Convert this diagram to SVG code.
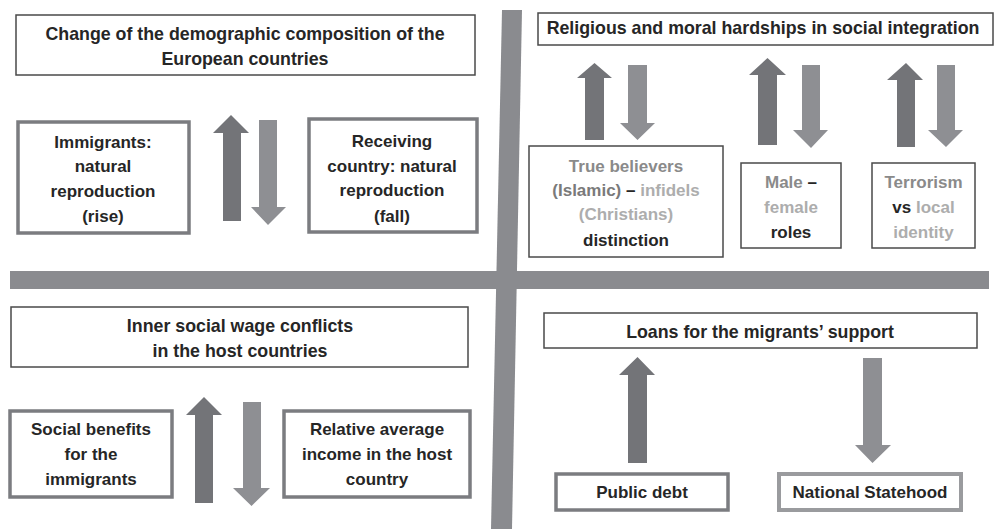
<svg xmlns="http://www.w3.org/2000/svg" width="994" height="529" viewBox="0 0 994 529">
<style>
text{font-family:"Liberation Sans",Arial,sans-serif;font-weight:bold;font-size:17px;fill:#262626;text-anchor:middle}
text.t{font-size:17.8px}
.thin{fill:#fff;stroke:#4a4a4a;stroke-width:1.5}
.thick{fill:#fff;stroke:#7b7c80;stroke-width:3.5}
.thick2{fill:#fff;stroke:#9a9b9e;stroke-width:4}
.up{fill:#737478}
.dn{fill:#8e8f93}
.bar{fill:#8a8b8f}
.g1{fill:#8a8a8a}
.g2{fill:#7a7a7a}
.g3{fill:#adadad}
</style>
<g id="dividers">
<polygon class="bar" points="502,10 522,10 512,529 491,529"/>
<rect class="bar" x="10" y="271" width="979" height="18"/>
</g>
<g id="connectors">
<polygon class="up" points="223,221 223,133 213,133 231,115 249,133 241,133 241,221"/>
<polygon class="dn" points="259,120 277,120 277,207 286,207 268,225 251,207 259,207"/>
<polygon class="up" points="585,140 585,78 577,78 594.5,63 612,78 604,78 604,140"/>
<polygon class="dn" points="628,65 647,65 647,123 655,123 637.5,140 620,123 628,123"/>
<polygon class="up" points="758,145 758,75 749,75 767.5,58 786,75 777,75 777,145"/>
<polygon class="dn" points="802,65 820,65 820,130 828,130 811,148 793,130 802,130"/>
<polygon class="up" points="897,147 897,80 887,80 906,63 923,80 915,80 915,147"/>
<polygon class="dn" points="937,65 955,65 955,130 963,130 946,147 928,130 937,130"/>
<polygon class="up" points="195,503 195,415 186,415 204,397 222,415 213,415 213,503"/>
<polygon class="dn" points="243,402 261,402 261,488 270,488 251.5,506 233,488 243,488"/>
<polygon class="up" points="628,463 628,375 619,375 637.5,357 655,375 647,375 647,463"/>
<polygon class="dn" points="863,358 882,358 882,445 891,445 872.5,463 855,445 863,445"/>
</g>
<g id="demographic">
<rect class="thin" x="16" y="15" width="459" height="60"/>
<text class="t" x="245" y="40">Change of the demographic composition of the</text>
<text class="t" x="245" y="65">European countries</text>
</g>
<g id="immigrants">
<rect class="thick" x="18" y="122" width="171" height="111"/>
<text x="103" y="148">Immigrants:</text>
<text x="103" y="172">natural</text>
<text x="103" y="197">reproduction</text>
<text x="103" y="222">(rise)</text>
</g>
<g id="receiving">
<rect class="thick" x="309" y="119" width="168" height="113"/>
<text x="392" y="147">Receiving</text>
<text x="392" y="172">country: natural</text>
<text x="392" y="196">reproduction</text>
<text x="392" y="222">(fall)</text>
</g>
<g id="religious">
<rect class="thin" x="538" y="13" width="455" height="32"/>
<text class="t" x="763" y="34">Religious and moral hardships in social integration</text>
</g>
<g id="believers">
<rect class="thin" x="529" y="146" width="194" height="111"/>
<text x="626" y="172" class="g1">True believers</text>
<text x="626" y="196"><tspan class="g2">(Islamic)</tspan> – <tspan class="g3">infidels</tspan></text>
<text x="626" y="220" class="g3">(Christians)</text>
<text x="626" y="246">distinction</text>
</g>
<g id="malefemale">
<rect class="thin" x="741" y="163" width="100" height="85"/>
<text x="791" y="188"><tspan class="g1">Male</tspan> –</text>
<text x="791" y="213" class="g3">female</text>
<text x="791" y="238">roles</text>
</g>
<g id="terrorism">
<rect class="thin" x="872" y="163" width="103" height="85"/>
<text x="923.5" y="188" class="g1">Terrorism</text>
<text x="923.5" y="213">vs <tspan class="g3">local</tspan></text>
<text x="923.5" y="238" class="g3">identity</text>
</g>
<g id="wage">
<rect class="thin" x="11" y="307" width="457" height="60"/>
<text class="t" x="240" y="332">Inner social wage conflicts</text>
<text class="t" x="240" y="357">in the host countries</text>
</g>
<g id="benefits">
<rect class="thick" x="10" y="411" width="162" height="86"/>
<text x="91" y="435">Social benefits</text>
<text x="91" y="460">for the</text>
<text x="91" y="485">immigrants</text>
</g>
<g id="income">
<rect class="thick" x="284" y="411" width="186" height="86"/>
<text x="377" y="435">Relative average</text>
<text x="377" y="460">income in the host</text>
<text x="377" y="485">country</text>
</g>
<g id="loans">
<rect class="thin" x="544" y="313" width="433" height="35"/>
<text class="t" x="760" y="338">Loans for the migrants’ support</text>
</g>
<g id="debt">
<rect class="thick" x="556" y="474" width="172" height="36"/>
<text x="642" y="498">Public debt</text>
</g>
<g id="statehood">
<rect class="thick2" x="779" y="474" width="182" height="36"/>
<text x="870" y="498">National Statehood</text>
</g>
</svg>
